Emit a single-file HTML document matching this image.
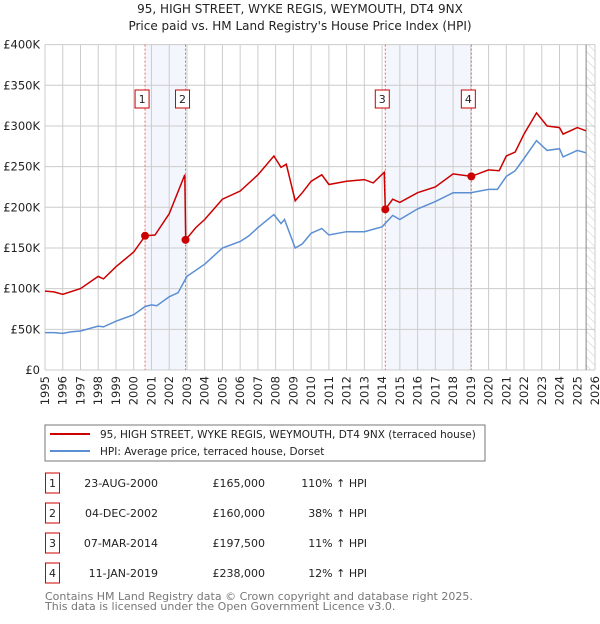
<!DOCTYPE html>
<html><head><meta charset="utf-8"><style>
body{margin:0;background:#fff;font-family:"DejaVu Sans","Liberation Sans",sans-serif}
svg text{font-family:"DejaVu Sans","Liberation Sans",sans-serif}
</style></head><body>
<svg id="c" width="600" height="620" xmlns="http://www.w3.org/2000/svg">
<defs><pattern id="hatch" width="6" height="6" patternUnits="userSpaceOnUse" patternTransform="rotate(-45)"><line x1="0" y1="0" x2="0" y2="6" stroke="#ccc" stroke-width="1"/></pattern></defs>
<text x="300" y="13" text-anchor="middle" font-size="12" fill="#222">95, HIGH STREET, WYKE REGIS, WEYMOUTH, DT4 9NX</text>
<text x="300" y="30" text-anchor="middle" font-size="12" fill="#222">Price paid vs. HM Land Registry's House Price Index (HPI)</text>
<g id="plot"></g>
<rect x="45" y="425" width="440" height="36" fill="#fff" stroke="#777"/>
<line x1="50" y1="434" x2="90" y2="434" stroke="#c00" stroke-width="2"/>
<text x="100" y="438" font-size="10.5" fill="#222">95, HIGH STREET, WYKE REGIS, WEYMOUTH, DT4 9NX (terraced house)</text>
<line x1="50" y1="451" x2="90" y2="451" stroke="#5b8fd4" stroke-width="2"/>
<text x="100" y="455" font-size="10.5" fill="#222">HPI: Average price, terraced house, Dorset</text>
<g id="table"></g>
<text x="45" y="600" font-size="11" fill="#777">Contains HM Land Registry data © Crown copyright and database right 2025.</text>
<text x="45" y="610" font-size="11" fill="#777">This data is licensed under the Open Government Licence v3.0.</text>
</svg>
<script>
const yTicks=[0,50,100,150,200,250,300,350,400];
const yTickLabels=["£0","£50K","£100K","£150K","£200K","£250K","£300K","£350K","£400K"];
const xYears=[1995,1996,1997,1998,1999,2000,2001,2002,2003,2004,2005,2006,2007,2008,2009,2010,2011,2012,2013,2014,2015,2016,2017,2018,2019,2020,2021,2022,2023,2024,2025,2026];
const hpiT=[1995,1995.5,1996,1996.5,1997,1998,1998.3,1999,2000,2000.65,2001,2001.3,2002,2002.5,2003,2004,2005,2006,2006.5,2007,2007.9,2008.3,2008.5,2009.1,2009.5,2010,2010.6,2011,2012,2013,2014,2014.6,2015,2016,2017,2018,2019,2020,2020.5,2021,2021.5,2022,2022.7,2023.3,2024,2024.2,2025,2025.5];
const hpiV=[46,46,45,47,48,54,53,60,68,78,80,79,90,95,115,130,150,158,165,175,191,180,185,150,155,168,174,166,170,170,176,190,185,198,207,218,218,222,222,238,245,260,282,270,272,262,270,267];
const propT=[1995,1995.5,1996,1997,1998,1998.3,1999,2000,2000.65,2001.2,2002,2002.88,2002.93,2003.5,2004,2005,2006,2007,2007.9,2008.3,2008.6,2009.1,2009.5,2010,2010.6,2011,2012,2013,2013.5,2014.12,2014.18,2014.6,2015,2016,2017,2018,2019.03,2020,2020.6,2021,2021.5,2022,2022.7,2023.3,2024,2024.2,2025,2025.5];
const propV=[97,96,93,100,115,112,127,145,165,166,192,240,160,175,185,210,220,240,263,249,253,208,218,232,240,228,232,234,230,243,197.5,210,206,218,225,241,238,246,245,263,268,290,316,300,298,290,298,294];
const saleT=[2000.64,2002.92,2014.18,2019.03];
const saleV=[165,160,197.5,238];
const saleDates=["23-AUG-2000","04-DEC-2002","07-MAR-2014","11-JAN-2019"];
const salePrices=["£165,000","£160,000","£197,500","£238,000"];
const saleHpi=["110% ↑ HPI","38% ↑ HPI","11% ↑ HPI","12% ↑ HPI"];
const dataEnd=2025.5;

const NS="http://www.w3.org/2000/svg";
const X0=45,X1=595,Y0=370,Y1=44.6;
const xs=t=>X0+(t-1995)/(2026-1995)*(X1-X0);
const ys=v=>Y0-v/400*(Y0-Y1);
const plot=document.getElementById('plot');
function mk(tag,at,parent){const e=document.createElementNS(NS,tag);for(const k in at)e.setAttribute(k,at[k]);(parent||plot).appendChild(e);return e;}
for(let i=0;i<4;i+=2){const r=mk('rect',{x:xs(saleT[i]),y:Y1,width:xs(saleT[i+1])-xs(saleT[i]),height:Y0-Y1,fill:'#f3f6fd'});

}
const h=mk('rect',{x:xs(dataEnd),y:Y1,width:X1-xs(dataEnd),height:Y0-Y1,fill:'url(#hatch)'});


xYears.forEach(y=>{const l=mk('line',{x1:xs(y),x2:xs(y),y1:Y1,y2:Y0,stroke:'#ccc'});


const t=mk('text',{x:0,y:0,'font-size':11.5,fill:'#222','text-anchor':'end',transform:`translate(${xs(y)+4},${Y0+6}) rotate(-90)`});t.textContent=y;

});
yTicks.forEach((v,i)=>{const l=mk('line',{x1:X0,x2:X1,y1:ys(v),y2:ys(v),stroke:'#ccc'});


const t=mk('text',{x:X0-5,y:ys(v)+4,'font-size':11.5,fill:'#222','text-anchor':'end'});t.textContent=yTickLabels[i];

});
const el=mk('line',{x1:xs(dataEnd),x2:xs(dataEnd),y1:Y1,y2:Y0,stroke:'#888'});


saleT.forEach((t,i)=>{const l=mk('line',{x1:xs(t),x2:xs(t),y1:Y1,y2:Y0,stroke:'#e66','stroke-dasharray':'2,2'});


const g=mk('g',{});


mk('rect',{x:xs(t)-10,y:90,width:14,height:18,fill:'#fff',stroke:'#c00'},g);
const tx=mk('text',{x:xs(t)-3,y:103,'font-size':11,fill:'#222','text-anchor':'middle'},g);tx.textContent=i+1;});
const pts=(T,V)=>T.map((t,i)=>xs(t).toFixed(1)+','+ys(V[i]).toFixed(1)).join(' ');
const hl=mk('polyline',{points:pts(hpiT,hpiV),fill:'none',stroke:'#5b8fd4','stroke-width':1.5});


const pl=mk('polyline',{points:pts(propT,propV),fill:'none',stroke:'#c00','stroke-width':1.5});


saleT.forEach((t,i)=>{const c=mk('circle',{cx:xs(t),cy:ys(saleV[i]),r:4,fill:'#c00'});

});
const tb=document.getElementById('table');
saleT.forEach((t,i)=>{const cy=483+i*30;
const g=mk('g',{},tb);


mk('rect',{x:45.5,y:cy-10,width:14,height:20,fill:'#fff',stroke:'#c00'},g);
const a=mk('text',{x:52.5,y:cy+4,'font-size':11,fill:'#222','text-anchor':'middle'},g);a.textContent=i+1;
const b=mk('text',{x:158,y:cy+4,'font-size':11,fill:'#222','text-anchor':'end'},g);b.textContent=saleDates[i];
const c=mk('text',{x:265,y:cy+4,'font-size':11,fill:'#222','text-anchor':'end'},g);c.textContent=salePrices[i];
const d=mk('text',{x:367,y:cy+4,'font-size':11,fill:'#222','text-anchor':'end'},g);d.textContent=saleHpi[i];});
</script>
</body></html>
